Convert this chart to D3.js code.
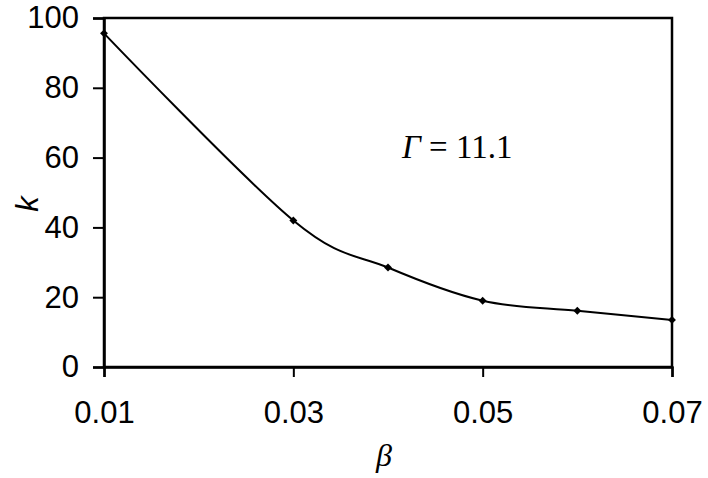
<!DOCTYPE html>
<html>
<head>
<meta charset="utf-8">
<script src="https://cdn.jsdelivr.net/npm/d3@7"></script>
<style>
  html, body { margin: 0; padding: 0; background: #fff; }
  svg { display: block; }
</style>
</head>
<body>
<svg id="chart" width="708" height="478"></svg>
<script>
const betaValues = [0.01, 0.03, 0.04, 0.05, 0.06, 0.07];
const kValues = [95.6, 42.0, 28.5, 19.0, 16.1, 13.5];
const xTicks = [0.01, 0.03, 0.05, 0.07];
const yTicks = [0, 20, 40, 60, 80, 100];
const annotation = { symbol: "Γ", text: " = 11.1" };

const svg = d3.select("#chart");
const margin = { left: 104, right: 36, top: 18, bottom: 111 };
const W = 708, H = 478;
const x = d3.scaleLinear().domain([0.01, 0.07]).range([margin.left, W - margin.right]);
const y = d3.scaleLinear().domain([0, 100]).range([H - margin.bottom, margin.top]);

const sans = "'Liberation Sans', Arial, sans-serif";
const serif = "'Liberation Serif', 'Times New Roman', serif";

// frame
svg.append("rect")
  .attr("x", x(0.01)).attr("y", y(100))
  .attr("width", x(0.07) - x(0.01)).attr("height", y(0) - y(100))
  .attr("fill", "none").attr("stroke", "#000").attr("stroke-width", 2.5);

const xAxis = svg.append("g")
  .attr("transform", `translate(0,${y(0)})`)
  .call(d3.axisBottom(x).tickValues(xTicks).tickSize(10).tickPadding(24).tickFormat(d3.format(".2f")));
const yAxis = svg.append("g")
  .attr("transform", `translate(${x(0.01)},0)`)
  .call(d3.axisLeft(y).tickValues(yTicks).tickSize(11).tickPadding(14).tickFormat(d3.format("d")));

[xAxis, yAxis].forEach(a => {
  a.select(".domain").attr("stroke", "#000").attr("stroke-width", 2.5);
  a.selectAll(".tick line").attr("stroke", "#000").attr("stroke-width", 2);
  a.selectAll(".tick text").attr("fill", "#000")
    .style("font-family", sans).style("font-size", "31px");
});

// line
const pts = betaValues.map((b, i) => [b, kValues[i]]);
svg.append("path")
  .datum(pts)
  .attr("fill", "none").attr("stroke", "#000").attr("stroke-width", 2)
  .attr("d", d3.line().x(d => x(d[0])).y(d => y(d[1])).curve(d3.curveCardinal.tension(0)));

// markers
svg.selectAll(".mk").data(pts).enter().append("path")
  .attr("class", "mk")
  .attr("transform", d => `translate(${x(d[0])},${y(d[1])})`)
  .attr("d", d3.symbol().type(d3.symbolDiamond2).size(40))
  .attr("fill", "#000");

// axis labels
svg.append("text")
  .attr("transform", `translate(${38},${204}) rotate(-90)`)
  .attr("text-anchor", "middle")
  .style("font-family", sans).style("font-style", "italic").style("font-size", "31px")
  .text("k");

svg.append("text")
  .attr("x", 384).attr("y", 466)
  .attr("text-anchor", "middle")
  .style("font-family", serif).style("font-style", "italic").style("font-size", "32px")
  .text("β");

// annotation
const ann = svg.append("text")
  .attr("x", 402).attr("y", 158)
  .style("font-family", serif).style("font-size", "33px");
ann.append("tspan").style("font-style", "italic").text(annotation.symbol);
ann.append("tspan").text(annotation.text);
</script>
</body>
</html>
